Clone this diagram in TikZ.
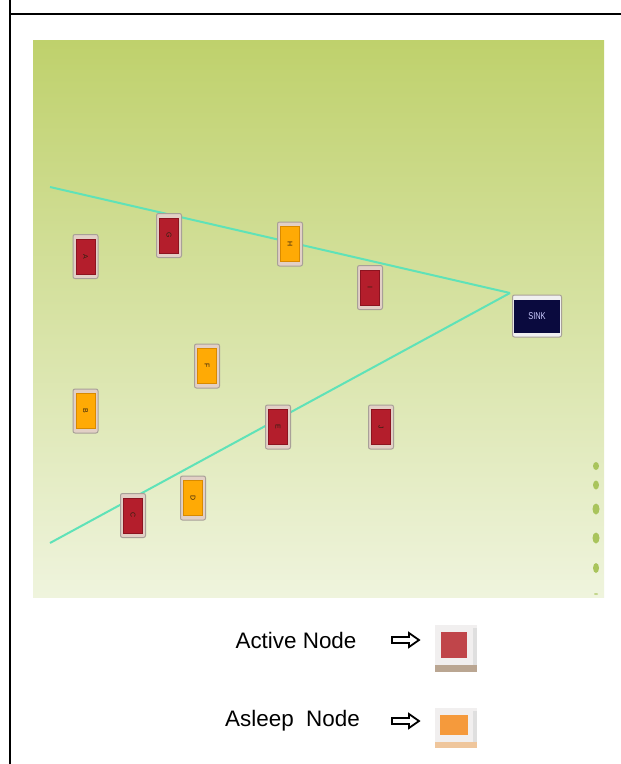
\documentclass[tikz,border=0pt]{standalone}
\usepackage{fontspec}
\setmainfont{Liberation Sans}
\usetikzlibrary{calc}

\definecolor{fieldtop}{HTML}{BFD16C}
\definecolor{fieldmid}{HTML}{D9E4A0}
\definecolor{fieldbot}{HTML}{EFF4DD}
\definecolor{linkcol}{HTML}{5FE2B8}
\definecolor{activecol}{HTML}{B41E2C}
\definecolor{activeedge}{HTML}{8C1420}
\definecolor{sleepcol}{HTML}{FFAA05}
\definecolor{sleepedge}{HTML}{D88A00}
\definecolor{framefill}{HTML}{E2D0C6}
\definecolor{frameedge}{HTML}{A8A098}
\definecolor{sinkcol}{HTML}{0A0A3E}
\definecolor{dotcol}{HTML}{A9C45C}
\definecolor{legred}{HTML}{C0454A}
\definecolor{legorange}{HTML}{F59A3C}
\definecolor{legback}{HTML}{F1EFEF}

\tikzset{
  moteframe/.style={draw=frameedge, fill=framefill, rounded corners=2bp,
    line width=1bp, minimum width=25bp, minimum height=44bp, inner sep=0pt},
  motecore/.style={draw=#1edge, fill=#1col, line width=0.5bp,
    minimum width=19bp, minimum height=35bp, inner sep=0pt},
  link/.style={draw=linkcol, line width=2bp},
  legendtext/.style={font=\fontsize{22.5}{26}\selectfont, anchor=base, inner sep=0pt},
  hollowarrow/.style={draw=black, line width=1.8bp, line join=miter, fill=white},
}

% one sensor mote: name, x, y, state (active/sleep), letter
\newcommand\mote[5]{%
  \node[moteframe] (#1) at (#2,#3) {};
  \node[motecore=#4] (#1core) at (#1.center)
    {\rotatebox{-90}{\fontsize{7}{7}\selectfont\color{black!75!brown}#5}};
}

% outline arrow pointing right, from x=#1 to x=#2 at height #3
\newcommand\outlinearrow[3]{%
  \draw[hollowarrow] (#1,#3-3) -- (#2-10,#3-3) -- (#2-10,#3-7) -- (#2,#3)
    -- (#2-10,#3+7) -- (#2-10,#3+3) -- (#1,#3+3) -- cycle;
}

\begin{document}
\begin{tikzpicture}[x=1bp,y=-1bp]
  \useasboundingbox (0,0) rectangle (621,764);
  \fill[white] (0,0) rectangle (621,764);

  % frame lines
  \draw[black, line width=1.3bp] (10,0) -- (10,764);
  \draw[black, line width=2bp] (10,14.3) -- (621,14.3);

  % field
  \shade[top color=fieldtop, middle color=fieldmid, bottom color=fieldbot]
    (33,41) rectangle (604,597);

  % dots along the right edge
  \foreach \yy/\ww/\hh in {466/5/8, 485/5/9, 509/6/11, 538/6/11, 568/5/10} {
    \fill[dotcol] (596,\yy) ellipse [x radius=\ww/2+0.5, y radius=\hh/2];
  }
  \fill[dotcol!70] (596,594) ellipse [x radius=2, y radius=1];

  % routing paths towards the sink
  \coordinate (hub) at (510,293);
  \coordinate (upperend) at (50,187);
  \coordinate (lowerend) at (50,543);
  \draw[link] (upperend) -- (hub);
  \draw[link] (lowerend) -- (hub);

  % motes
  \mote{A}{85.5}{256.5}{active}{A}
  \mote{G}{169}{235.5}{active}{G}
  \mote{H}{290}{244}{sleep}{H}
  \mote{I}{370}{287.5}{active}{I}
  \mote{F}{207}{366}{sleep}{F}
  \mote{B}{85.5}{411}{sleep}{B}
  \mote{E}{278}{427}{active}{E}
  \mote{J}{381}{427}{active}{J}
  \mote{D}{193}{498}{sleep}{D}
  \mote{C}{133}{515.5}{active}{C}

  % sink
  \node[moteframe, fill=white!88!gray, minimum width=49bp, minimum height=42bp]
    (sink) at (537,316) {};
  \node[draw=sinkcol, fill=sinkcol, minimum width=45bp, minimum height=32bp,
    inner sep=0pt, text=white!80!blue] (sinkcore) at (sink.center)
    {\fontsize{10}{10}\selectfont\scalebox{0.75}[1]{SINK}};

  % legend
  \node[legendtext] (activetxt) at (296,648) {Active Node};
  \node[legendtext] (asleeptxt) at (292.5,726) {Asleep\ \ Node};
  \outlinearrow{392}{419}{640}
  \outlinearrow{392}{419}{721}

  \fill[legback] (435,625) rectangle (477,672);
  \fill[gray!25] (473,628) rectangle (477,672);
  \fill[brown!45!gray!70] (435,665) rectangle (477,672);
  \node[fill=legred, minimum width=26bp, minimum height=26bp, inner sep=0pt]
    (activekey) at (454,645) {};

  \fill[legback] (435,708) rectangle (477,748);
  \fill[gray!25] (473,711) rectangle (477,748);
  \fill[brown!55!orange!45] (435,742) rectangle (477,748);
  \node[fill=legorange, minimum width=28bp, minimum height=20bp, inner sep=0pt]
    (asleepkey) at (454,725) {};
\end{tikzpicture}
\end{document}
